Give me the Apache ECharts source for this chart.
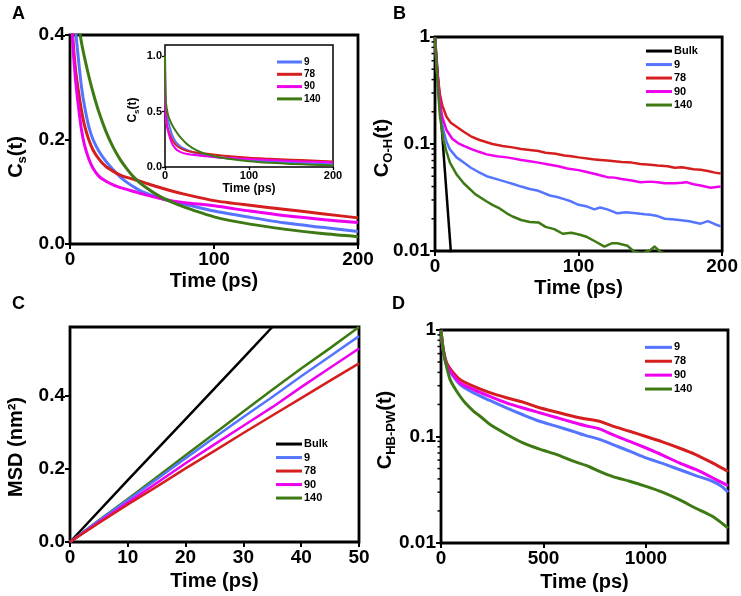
<!DOCTYPE html>
<html><head><meta charset="utf-8">
<script src="https://cdn.jsdelivr.net/npm/echarts@6/dist/echarts.min.js"></script>
<style>html,body{margin:0;padding:0;background:#fff}#c{width:741px;height:596px}</style>
</head><body><div id="c"></div>
<script>
// ---------- DATA ----------
const seriesNames = ['9', '78', '90', '140'];
// Panel A : Cs(t)
const csTime = [0, 0.3, 1, 2, 4, 6, 8, 10, 13, 16, 20, 25, 30, 35, 40, 45, 50, 60, 70, 80, 100, 125, 150, 175, 200];
const cs9   = [1.0, 0.70, 0.55, 0.47, 0.405, 0.35, 0.30, 0.265, 0.225, 0.20, 0.178, 0.158, 0.142, 0.128, 0.117, 0.108, 0.10, 0.09, 0.082, 0.076, 0.063, 0.051, 0.040, 0.032, 0.024];
const cs78  = [1.0, 0.64, 0.47, 0.395, 0.33, 0.29, 0.255, 0.228, 0.20, 0.18, 0.163, 0.148, 0.139, 0.132, 0.127, 0.123, 0.119, 0.11, 0.102, 0.095, 0.083, 0.074, 0.066, 0.058, 0.05];
const cs90  = [1.0, 0.62, 0.45, 0.38, 0.31, 0.26, 0.218, 0.19, 0.163, 0.145, 0.13, 0.12, 0.113, 0.108, 0.104, 0.10, 0.096, 0.089, 0.083, 0.079, 0.073, 0.063, 0.054, 0.047, 0.041];
const cs140 = [1.0, 0.75, 0.60, 0.53, 0.46, 0.42, 0.385, 0.358, 0.322, 0.29, 0.253, 0.215, 0.185, 0.161, 0.142, 0.126, 0.114, 0.095, 0.081, 0.07, 0.052, 0.038, 0.028, 0.02, 0.014];
// Panel B : C_O-H(t)  [time, value]
const ohBulk = [[0, 1], [12, 0.0066]];
const oh9 = [[0,1],[1,0.57],[2,0.36],[3.5,0.2],[5.8,0.135],[8,0.105],[10.4,0.089],[15,0.075],[20,0.067],[25,0.06],[30,0.055],[36,0.05],[43,0.047],[50,0.044],[55,0.042],[60,0.04],[66,0.038],[72,0.0365],[80,0.033],[85,0.032],[90,0.0305],[95,0.029],[100,0.027],[106,0.026],[111,0.0245],[115,0.0255],[120,0.0245],[127,0.0225],[133,0.023],[140,0.0225],[146,0.022],[150,0.0218],[155,0.0212],[160,0.02],[165,0.0198],[170,0.0195],[177,0.019],[185,0.018],[190,0.019],[195,0.0178],[199,0.017]];
const oh78 = [[0,1],[1,0.6],[2,0.42],[3.5,0.29],[5,0.23],[8,0.18],[11,0.158],[15,0.145],[20,0.13],[25,0.118],[31,0.109],[40,0.1],[47,0.096],[54,0.093],[60,0.09],[66,0.088],[72,0.086],[77,0.083],[84,0.081],[90,0.078],[95,0.077],[100,0.075],[110,0.072],[115,0.071],[120,0.07],[130,0.068],[137,0.067],[143,0.065],[150,0.064],[155,0.063],[162,0.062],[167,0.06],[172,0.0605],[180,0.058],[185,0.0575],[190,0.056],[195,0.054],[199,0.053]];
const oh90 = [[0,1],[1,0.58],[2,0.38],[3.5,0.24],[5,0.18],[8,0.135],[12,0.112],[16,0.102],[20,0.096],[25,0.09],[30,0.085],[36,0.08],[43,0.077],[50,0.075],[55,0.073],[60,0.071],[66,0.069],[72,0.067],[80,0.064],[86,0.062],[92,0.059],[100,0.057],[105,0.055],[110,0.053],[115,0.051],[120,0.049],[125,0.0485],[130,0.047],[137,0.0455],[143,0.044],[150,0.0445],[155,0.044],[160,0.043],[167,0.043],[172,0.0435],[175,0.044],[180,0.042],[185,0.041],[192,0.039],[199,0.04]];
const oh140 = [[0,1],[1,0.55],[2,0.33],[3.5,0.18],[5.8,0.11],[8,0.085],[10.4,0.067],[15,0.052],[20,0.043],[28,0.034],[36,0.029],[40,0.027],[45,0.025],[50,0.0225],[54,0.021],[60,0.0195],[66,0.0187],[72,0.0185],[77,0.0168],[83,0.016],[89,0.0145],[95,0.0148],[101,0.0142],[106,0.0135],[112,0.0122],[118,0.011],[123,0.0118],[127,0.0118],[134,0.0112],[139,0.0098],[145,0.0096],[150,0.0102],[153,0.011],[157,0.0098],[160,0.0095]];
// Panel C : MSD (nm^2)
const msdTime = [0, 5, 10, 15, 20, 25, 30, 35, 40, 45, 50];
const msdBulkTime = [0, 10, 20, 30, 35];
const msdBulk = [0, 0.17, 0.337, 0.505, 0.59];
const msd9   = [0, 0.058, 0.115, 0.172, 0.23, 0.287, 0.343, 0.398, 0.455, 0.51, 0.565];
const msd78  = [0, 0.052, 0.103, 0.152, 0.202, 0.25, 0.299, 0.347, 0.395, 0.443, 0.49];
const msd90  = [0, 0.055, 0.108, 0.162, 0.216, 0.268, 0.319, 0.37, 0.425, 0.478, 0.531];
const msd140 = [0, 0.06, 0.118, 0.178, 0.238, 0.298, 0.358, 0.418, 0.476, 0.532, 0.59];
// Panel D : C_HB-PW(t)  [time, value]
const hb9 = [[0,1],[10,0.65],[28,0.46],[50,0.39],[92,0.309],[157,0.258],[238,0.218],[319,0.186],[400,0.16],[481,0.139],[562,0.125],[643,0.112],[700,0.103],[773,0.094],[838,0.084],[920,0.073],[1000,0.063],[1080,0.056],[1162,0.049],[1243,0.043],[1324,0.038],[1370,0.034],[1400,0.030]];
const hb78 = [[0,1],[10,0.68],[28,0.49],[50,0.42],[92,0.344],[157,0.297],[238,0.258],[319,0.231],[400,0.21],[481,0.186],[562,0.17],[643,0.155],[700,0.147],[773,0.139],[838,0.125],[920,0.112],[1000,0.1],[1080,0.089],[1162,0.078],[1240,0.068],[1324,0.0565],[1400,0.047]];
const hb90 = [[0,1],[10,0.66],[28,0.47],[50,0.40],[92,0.32],[157,0.277],[238,0.238],[319,0.207],[400,0.185],[481,0.167],[562,0.151],[643,0.136],[700,0.127],[773,0.118],[838,0.104],[920,0.09],[1000,0.078],[1080,0.067],[1162,0.0565],[1243,0.049],[1324,0.041],[1400,0.0346]];
const hb140 = [[0,1],[5,0.8],[11,0.66],[20,0.52],[30,0.43],[44,0.344],[60,0.3],[92,0.24],[120,0.205],[157,0.174],[200,0.15],[238,0.13],[319,0.105],[400,0.087],[481,0.076],[562,0.068],[643,0.059],[724,0.052],[773,0.047],[838,0.042],[920,0.038],[1000,0.034],[1080,0.03],[1162,0.0255],[1243,0.0212],[1324,0.0178],[1400,0.0138]];
// tick labels / minor log ticks
const logMinorTicks = [0.02,0.03,0.04,0.05,0.06,0.07,0.08,0.09,0.2,0.3,0.4,0.5,0.6,0.7,0.8,0.9];

// ---------- STYLE ----------
const FF = 'Liberation Sans, Arial, sans-serif';
const colors = {'Bulk':'#000000','9':'#5574ff','78':'#d51f1f','90':'#ee00ee','140':'#3e7a14'};
const zip = (xs, ys) => xs.map((x, i) => [x, ys[i]]);

function lin(name, data, xi, w, smooth) {
  return {type:'line', name, data, xAxisIndex:xi, yAxisIndex:xi, showSymbol:false, symbol:'none',
    smooth: smooth ? 0.25 : false,
    lineStyle:{color:colors[name], width:w, join:'round'}, itemStyle:{color:colors[name]}, emphasis:{disabled:true}, z: 3};
}
function xAx(gi, min, max, interval, name, fs, nameFs, nameGap, opts) {
  return Object.assign({type:'value', gridIndex:gi, min, max, interval,
    name, nameLocation:'middle', nameGap, nameTextStyle:{fontFamily:FF, fontWeight:'bold', fontSize:nameFs, color:'#000'},
    axisLine:{show:false}, splitLine:{show:false},
    axisTick:{show:true, length: fs > 14 ? 5 : 3, lineStyle:{color:'#000', width: fs > 14 ? 2 : 1.3}},
    axisLabel:{fontFamily:FF, fontWeight:'bold', fontSize:fs, color:'#000', margin: fs > 14 ? 6 : 3, formatter: v => String(v)}}, opts||{});
}
function yAx(gi, type, min, max, interval, fs, fmt, opts) {
  const a = {type, gridIndex:gi, min, max,
    axisLine:{show:false}, splitLine:{show:false},
    axisTick:{show:true, length: fs > 14 ? 5 : 3, lineStyle:{color:'#000', width: fs > 14 ? 2 : 1.3}},
    axisLabel:{fontFamily:FF, fontWeight:'bold', fontSize:fs, color:'#000', margin: fs > 14 ? 5 : 3, formatter: fmt}};
  if (interval != null) a.interval = interval;
  if (type === 'log') a.logBase = 10;
  return Object.assign(a, opts||{});
}
const f1 = v => v.toFixed(1);
const flog = v => String(Math.round(v * 1000) / 1000);

const gridBase = {show:true, borderColor:'#000', borderWidth:2.8, backgroundColor:'#fff', containLabel:false};
const grids = [
  Object.assign({}, gridBase, {left:70, top:35, width:288, height:209}),          // A main
  Object.assign({}, gridBase, {left:165, top:45, width:168, height:122, borderWidth:1.5}), // A inset
  Object.assign({}, gridBase, {left:435, top:37, width:288, height:214}),         // B
  Object.assign({}, gridBase, {left:70, top:327, width:289, height:215}),         // C
  Object.assign({}, gridBase, {left:441, top:330, width:287, height:213})         // D
];

const series = [];
const csSets = {'9':cs9,'78':cs78,'90':cs90,'140':cs140};
seriesNames.forEach(n => series.push(lin(n, zip(csTime, csSets[n]), 0, 3, true)));
seriesNames.forEach(n => series.push(lin(n, zip(csTime, csSets[n]), 1, 2, true)));
series.push(lin('Bulk', ohBulk, 2, 2.5, false));
const ohSets = {'9':oh9,'78':oh78,'90':oh90,'140':oh140};
seriesNames.forEach(n => series.push(lin(n, ohSets[n], 2, 2.5, false)));
series.push(lin('Bulk', zip(msdBulkTime, msdBulk), 3, 2.5, false));
const msdSets = {'9':msd9,'78':msd78,'90':msd90,'140':msd140};
['140','9','90','78'].forEach(n => series.push(lin(n, zip(msdTime, msdSets[n]), 3, 2.5, false)));
const hbSets = {'9':hb9,'78':hb78,'90':hb90,'140':hb140};
seriesNames.forEach(n => series.push(lin(n, hbSets[n], 4, 3, true)));
[2, 4].forEach(gi => series.push({
  type:'custom', name:'minor'+gi, xAxisIndex:gi, yAxisIndex:gi, clip:false, silent:true, z:5,
  data: logMinorTicks.map(v => [0, v]), encode:{x:0, y:1},
  renderItem: (params, api) => {
    const p = api.coord([0, api.value(1)]);
    return {type:'line', shape:{x1:p[0]-3.5, y1:p[1], x2:p[0]-1, y2:p[1]}, style:{stroke:'#000', lineWidth:1.5}};
  }
}));

function legend(left, top, data, fs, lh, gap, iw) {
  return {orient:'vertical', left, top, padding:0, itemGap:gap, itemWidth:iw, itemHeight:3, icon:'rect',
    selectedMode:false, data,
    textStyle:{fontFamily:FF, fontWeight:'bold', fontSize:fs, color:'#000', lineHeight:lh, padding:[0,0,0,-3]}};
}
function rich(main, sub, rest, fs, sfs) {
  return {
    text: '{a|' + main + '}{b|' + sub + '}{a|' + rest + '}',
    rich: {
      a: {fontFamily:FF, fontWeight:'bold', fontSize:fs, lineHeight:fs+2, verticalAlign:'top', fill:'#000'},
      b: {fontFamily:FF, fontWeight:'bold', fontSize:sfs, lineHeight:sfs, padding:[Math.round(fs*0.5),0,0,0], verticalAlign:'top', fill:'#000'}
    },
    align:'center', verticalAlign:'middle', fill:'#000'
  };
}
function ytitle(x, y, style) { return {type:'text', x, y, rotation:Math.PI/2, style, z:10}; }
function letter(x, y, t) {
  return {type:'text', left:x, top:y, style:{text:t, fontFamily:FF, fontWeight:'bold', fontSize:18, fill:'#000'}};
}

const option = {
  animation:false,
  backgroundColor:'#fff',
  grid: grids,
  xAxis: [
    xAx(0, 0, 200, 100, 'Time (ps)', 19, 20, 27),
    xAx(1, 0, 200, 100, 'Time (ps)', 11, 12, 16),
    xAx(2, 0, 200, 100, 'Time (ps)', 19, 20, 27),
    xAx(3, 0, 50, 10, 'Time (ps)', 19, 20, 29),
    xAx(4, 0, 1400, 500, 'Time (ps)', 19, 20, 29, {axisLabel:{fontFamily:FF, fontWeight:'bold', fontSize:19, color:'#000', margin:6, showMaxLabel:false, formatter: v => String(v)}})
  ],
  yAxis: [
    yAx(0, 'value', 0, 0.4, 0.2, 19, f1),
    yAx(1, 'value', 0, 1.1, 0.5, 11, f1, {axisLabel:{fontFamily:FF, fontWeight:'bold', fontSize:11, color:'#000', margin:3, formatter:f1, showMaxLabel:false}}),
    yAx(2, 'log', 0.01, 1, null, 19, flog),
    yAx(3, 'value', 0, 0.59, 0.2, 19, f1, {axisLabel:{fontFamily:FF, fontWeight:'bold', fontSize:19, color:'#000', margin:5, formatter:f1, showMaxLabel:false}}),
    yAx(4, 'log', 0.01, 1, null, 19, flog)
  ],
  legend: [
    legend(277, 56.5, seriesNames, 10, 11, 1.3, 25),
    legend(646, 45.3, ['Bulk'].concat(seriesNames), 11, 11.5, 2, 26),
    legend(276, 438.3, ['Bulk'].concat(seriesNames), 11, 11.5, 2, 26),
    legend(645, 341.6, seriesNames, 11, 11.5, 2.4, 27)
  ],
  series,
  graphic: [
    letter(12, 5, 'A'), letter(393, 5, 'B'), letter(12, 295, 'C'), letter(392, 295, 'D'),
    ytitle(17, 157, rich('C', 's', '(t)', 20, 13)),
    ytitle(134, 110, rich('C', 's', '(t)', 12, 8)),
    ytitle(383, 148, rich('C', 'O-H', '(t)', 20, 13)),
    ytitle(16, 447, {text:'MSD (nm²)', fontFamily:FF, fontWeight:'bold', fontSize:20, fill:'#000', align:'center', verticalAlign:'middle'}),
    ytitle(386, 430, rich('C', 'HB-PW', '(t)', 20, 13))
  ]
};
const chart = echarts.init(document.getElementById('c'), null, {renderer:'canvas'});
chart.setOption(option);
</script>
</body></html>
